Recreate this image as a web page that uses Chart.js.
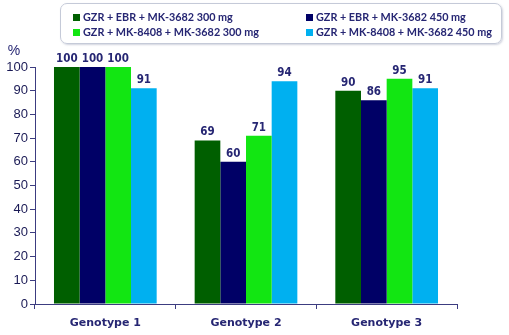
<!doctype html>
<html lang="en">
<head>
<meta charset="utf-8">
<title>Response by genotype</title>
<style>
  html,body{margin:0;padding:0;background:#fff}
  .wrap{position:relative;width:509px;height:335px}
  canvas{display:block}
  .legend{position:absolute;left:60px;top:3px;width:442px;height:41px;border:1px solid #c5cad8;border-radius:7px;
    box-shadow:1px 1px 2px rgba(120,130,160,.35);box-sizing:border-box;
    font:bold 10.8px Lato, "Open Sans", sans-serif;color:#262673}
  .legend span{position:absolute;white-space:nowrap;line-height:14px}
  .legend i{display:inline-block;width:7px;height:7px;margin-right:3px;vertical-align:0px}
</style>
</head>
<body>
<div class="wrap">
  <canvas id="chart" width="509" height="335"></canvas>
  <div class="legend" id="legend"></div>
</div>
<script src="https://cdn.jsdelivr.net/npm/chart.js@4.4.1/dist/chart.umd.min.js"></script>
<script>
(function(){
  const categories = ['Genotype 1', 'Genotype 2', 'Genotype 3'];
  const seriesNames = [
    'GZR + EBR + MK-3682 300 mg',
    'GZR + EBR + MK-3682 450 mg',
    'GZR + MK-8408 + MK-3682 300 mg',
    'GZR + MK-8408 + MK-3682 450 mg'
  ];
  const ebr300 = [100, 69, 90];
  const ebr450 = [100, 60, 86];
  const mk300 = [100, 71, 95];
  const mk450 = [91, 94, 91];
  const colors = ['#005f00', '#000066', '#12e612', '#00b0f0'];
  const yTicks = [0, 10, 20, 30, 40, 50, 60, 70, 80, 90, 100];

  const navy = '#262673';
  const axisColor = '#3c3c80';

  const datasets = [ebr300, ebr450, mk300, mk450].map((d, i) => ({
    label: seriesNames[i],
    data: d,
    backgroundColor: colors[i],
    borderWidth: 0,
    barPercentage: 1,
    categoryPercentage: 0.73
  }));

  // value labels above bars + "%" unit
  const labelsPlugin = {
    id: 'vlabels',
    afterDatasetsDraw(chart){
      const ctx = chart.ctx;
      ctx.save();
      ctx.fillStyle = navy;
      ctx.font = 'bold 11.5px "DejaVu Sans Condensed", "DejaVu Sans", sans-serif';
      ctx.textAlign = 'center';
      ctx.textBaseline = 'alphabetic';
      chart.data.datasets.forEach((ds, di) => {
        chart.getDatasetMeta(di).data.forEach((bar, j) => {
          ctx.fillText(ds.data[j], bar.x, bar.y - 5);
        });
      });
      ctx.font = '14px "Liberation Sans", Arial, sans-serif';
      ctx.textBaseline = 'middle';
      ctx.fillText('%', 14, 51);
      ctx.restore();
    }
  };

  const chart = new Chart(document.getElementById('chart'), {
    type: 'bar',
    data: { labels: categories, datasets },
    plugins: [labelsPlugin],
    options: {
      responsive: false,
      animation: false,
      layout: { padding: { top: 67, right: 52, left: 0, bottom: 0 } },
      plugins: { legend: { display: false }, tooltip: { enabled: false } },
      scales: {
        x: {
          grid: { display: true, drawOnChartArea: false, drawTicks: true, tickLength: 5, color: axisColor },
          border: { color: axisColor, width: 1 },
          ticks: { color: navy, font: { family: '"DejaVu Sans", Verdana, sans-serif', size: 11, weight: 'bold' }, padding: 8 },
          afterFit(s){ s.height = 31; }
        },
        y: {
          min: 0, max: 100,
          afterBuildTicks(s){ s.ticks = yTicks.map(v => ({ value: v })); },
          grid: { display: true, drawOnChartArea: false, drawTicks: true, tickLength: 5, color: axisColor },
          border: { color: axisColor, width: 1 },
          ticks: { color: '#1a1a55', font: { family: '"Liberation Sans", Arial, sans-serif', size: 13 }, padding: 2 },
          afterFit(s){ s.width = 35; }
        }
      }
    }
  });

  // legend laid out in two columns, built from the chart datasets
  const legend = document.getElementById('legend');
  const pos = [[12, 6], [245, 6], [12, 21], [245, 21]];
  chart.data.datasets.forEach((ds, i) => {
    const s = document.createElement('span');
    s.style.left = pos[i][0] + 'px';
    s.style.top = pos[i][1] + 'px';
    s.innerHTML = '<i style="background:' + ds.backgroundColor + '"></i>' + ds.label;
    legend.appendChild(s);
  });
})();
</script>
</body>
</html>
